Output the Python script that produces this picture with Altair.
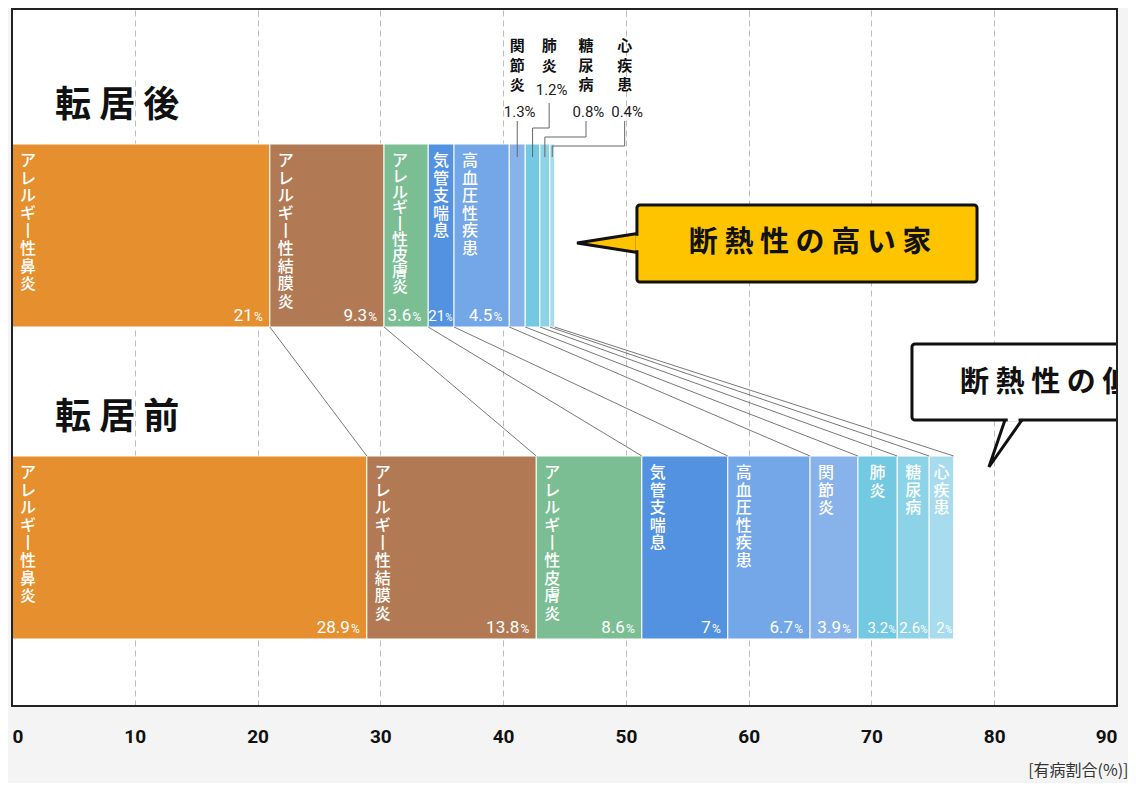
import altair as alt
import pandas as pd

# ---------------- data ----------------
categories = ["アレルギー性鼻炎", "アレルギー性結膜炎", "アレルギー性皮膚炎", "気管支喘息",
              "高血圧性疾患", "関節炎", "肺炎", "糖尿病", "心疾患"]
after_values = [21, 9.3, 3.6, 2.1, 4.5, 1.3, 1.2, 0.8, 0.4]
before_values = [28.9, 13.8, 8.6, 7, 6.7, 3.9, 3.2, 2.6, 2]
after_text = ["21", "9.3", "3.6", "21", "4.5", "1.3", "1.2", "0.8", "0.4"]
before_text = ["28.9", "13.8", "8.6", "7", "6.7", "3.9", "3.2", "2.6", "2"]
colors = ["#E68F2E", "#B27A54", "#7BBE93", "#5392E0", "#73A7E8",
          "#88B3EA", "#73C8E2", "#8CD3E8", "#A6DCED"]
row_titles = ["転 居 後", "転 居 前"]
x_ticks = [0, 10, 20, 30, 40, 50, 60, 70, 80, 90]
axis_title = "[有病割合(%)]"
callout_high = "断 熱 性 の 高 い 家"
callout_low = "断 熱 性 の 低 い 家"

# ---------------- layout (plot-area units) ----------------
W, H = 1105, 697
JP = "Noto Sans CJK JP"
NUM = "Roboto, sans-serif"
rows_layout = {"after": (135, 318), "before": (447, 630)}

recs = []
for row, vals, texts in [("after", after_values, after_text), ("before", before_values, before_text)]:
    y0, y1 = rows_layout[row]
    cum = 0.0
    for cat, v, t in zip(categories, vals, texts):
        recs.append(dict(row=row, category=cat, value=v, start=round(cum, 3),
                         end=round(cum + v, 3), mid=round(cum + v / 2, 3), y0=y0, y1=y1,
                         vname="\n".join(cat.replace("ー", "丨")), num=t,
                         inside=v >= 2, narrow=v < 3.3,
                         compact=(v < 5 and len(cat) >= 9)))
        cum += v
bars = pd.DataFrame(recs)
inside = bars[bars.inside]
wide = inside[~inside.narrow]
narrow = inside[inside.narrow]
names_reg = inside[~inside.compact]
names_cmp = inside[inside.compact]

ends_after = bars[bars.row == "after"].end.tolist()
ends_before = bars[bars.row == "before"].end.tolist()
connectors = pd.DataFrame({"xa": ends_after, "xb": ends_before,
                           "ya": rows_layout["after"][1], "yb": rows_layout["before"][0]})

# small outside labels for the tiny "after" segments
small = bars[(bars.row == "after") & (~bars.inside)].reset_index(drop=True)
small_lx = [None, 43.75, 46.75, 49.9]
small_pct_y = [103, 81, 103, 103]
small_top = [112, 94, 112, 112]
small_elbow = [125, 119, 128, 137]
lab_rows, lead_rows = [], []
for i, r in small.iterrows():
    lx = small_lx[i] if small_lx[i] is not None else r.mid
    lab_rows.append(dict(x=lx, y=30, name="\n".join(r.category), px=lx + 0.2,
                         py=small_pct_y[i], pct=r.num + "%"))
    e = small_elbow[i]
    lead_rows += [dict(x=lx, x2=lx, y=small_top[i], y2=e),
                  dict(x=lx, x2=r.mid, y=e, y2=e),
                  dict(x=r.mid, x2=r.mid, y=e, y2=148)]
small_labels = pd.DataFrame(lab_rows)
leaders = pd.DataFrame(lead_rows)

titles = pd.DataFrame({"x": [3.5, 3.5], "y": [97, 409], "t": row_titles})

xs = alt.Scale(domain=[0, 90], nice=False, zero=False)
ys = alt.Scale(domain=[0, H], reverse=True, nice=False, zero=False)
x_axis = alt.Axis(values=x_ticks, ticks=False, domain=False, grid=True, gridDash=[6, 4],
                  gridColor="#bdbdbd", gridWidth=1, labelFont=NUM, labelFontSize=19,
                  labelFontWeight="bold", labelColor="#111", labelPadding=21,
                  title=axis_title, titleFont=JP, titleFontSize=16, titleFontWeight="normal",
                  titleColor="#333", titleX=1116, titleY=64, titleAlign="right",
                  titleBaseline="middle")


def X(f):
    return alt.X(f, type="quantitative", scale=xs, axis=x_axis)


def Y(f):
    return alt.Y(f, type="quantitative", scale=ys, axis=None)


base_bars = alt.Chart(bars).mark_rect(stroke="white", strokeWidth=1).encode(
    x=X("start"), x2="end", y=Y("y0"), y2="y1",
    color=alt.Color("category:N", scale=alt.Scale(domain=categories, range=colors), legend=None))

conn = alt.Chart(connectors).mark_rule(color="#555", strokeWidth=0.8).encode(
    x=X("xa"), x2="xb", y=Y("ya"), y2="yb")

name_kw = dict(baseline="top", dy=9, lineBreak="\n", font=JP, fontSize=16,
               fontWeight=500, color="white")


def name_layers(df, lh):
    w = df[~df.narrow]
    n = df[df.narrow]
    return [
        alt.Chart(w).mark_text(align="left", dx=8, lineHeight=lh, **name_kw).encode(
            x=X("start"), y=Y("y0"), text="vname:N"),
        alt.Chart(n).mark_text(align="center", lineHeight=lh, **name_kw).encode(
            x=X("mid"), y=Y("y0"), text="vname:N"),
    ]


num_kw = dict(align="right", baseline="alphabetic", dy=-6, font=NUM, color="white")
num_wide = alt.Chart(wide).mark_text(dx=-17, fontSize=17, **num_kw).encode(
    x=X("end"), y=Y("y1"), text="num:N")
sign_wide = alt.Chart(wide).mark_text(dx=-7, fontSize=12, **num_kw).encode(
    x=X("end"), y=Y("y1"), text=alt.value("%"))
num_narrow = alt.Chart(narrow).mark_text(dx=-9, fontSize=15, **num_kw).encode(
    x=X("end"), y=Y("y1"), text="num:N")
sign_narrow = alt.Chart(narrow).mark_text(dx=-1.5, fontSize=10, **num_kw).encode(
    x=X("end"), y=Y("y1"), text=alt.value("%"))

row_title = alt.Chart(titles).mark_text(align="left", baseline="middle", font=JP,
                                        fontSize=36, fontWeight="bold", color="#111").encode(
    x=X("x"), y=Y("y"), text="t:N")

small_names = alt.Chart(small_labels).mark_text(
    align="center", baseline="top", lineBreak="\n", font=JP, fontSize=15,
    fontWeight="bold", lineHeight=19.5, color="#111").encode(
    x=X("x"), y=Y("y"), text="name:N")
small_pcts = alt.Chart(small_labels).mark_text(
    align="center", baseline="middle", font=NUM, fontSize=15, color="#222").encode(
    x=X("px"), y=Y("py"), text="pct:N")
lead = alt.Chart(leaders).mark_rule(color="#666", strokeWidth=1).encode(
    x=X("x"), x2="x2", y=Y("y"), y2="y2")

# callout: high insulation (yellow)
YEL = "#FFC400"
c1_ptr = pd.DataFrame({"y": [224, 234, 244], "x": [51.2, 46.02, 51.2], "x2": [51.2, 51.2, 51.2]})
c1_box = pd.DataFrame({"x": [50.9], "x2": [78.6], "y": [196], "y2": [273]})
c1_cov = pd.DataFrame({"x": [50.77], "x2": [51.14], "y": [226.8], "y2": [241.2]})
c1_txt = pd.DataFrame({"x": [65.0], "y": [234], "t": [callout_high]})
p1 = alt.Chart(c1_ptr).mark_area(orient="horizontal", fill=YEL, stroke="#111",
                                 strokeWidth=3, strokeJoin="miter").encode(
    x=X("x"), x2="x2", y=Y("y"))
b1 = alt.Chart(c1_box).mark_rect(fill=YEL, stroke="#111", strokeWidth=3, cornerRadius=3).encode(
    x=X("x"), x2="x2", y=Y("y"), y2="y2")
v1 = alt.Chart(c1_cov).mark_rect(fill=YEL).encode(x=X("x"), x2="x2", y=Y("y"), y2="y2")
t1 = alt.Chart(c1_txt).mark_text(align="center", baseline="middle", font=JP, fontSize=29,
                                 fontWeight="bold", color="#111").encode(
    x=X("x"), y=Y("y"), text="t:N")

# callout: low insulation (white, clipped at frame)
c2_ptr = pd.DataFrame({"x": [79.57, 80.96, 82.43], "y": [458, 408, 408], "y2": [458, 433.7, 408]})
c2_box = pd.DataFrame({"x": [73.3], "x2": [96.0], "y": [335], "y2": [411]})
c2_cov = pd.DataFrame({"x": [81.1], "x2": [81.98], "y": [407], "y2": [412.8]})
c2_txt = pd.DataFrame({"x": [77.21], "y": [374], "t": [callout_low]})
p2 = alt.Chart(c2_ptr).mark_area(orient="vertical", fill="white", stroke="#111",
                                 strokeWidth=3, strokeJoin="miter").encode(
    x=X("x"), y=Y("y"), y2="y2")
b2 = alt.Chart(c2_box).mark_rect(fill="white", stroke="#111", strokeWidth=3, cornerRadius=3,
                                 clip=True).encode(
    x=X("x"), x2="x2", y=Y("y"), y2="y2")
v2 = alt.Chart(c2_cov).mark_rect(fill="white").encode(x=X("x"), x2="x2", y=Y("y"), y2="y2")
t2 = alt.Chart(c2_txt).mark_text(align="left", baseline="middle", font=JP, fontSize=29,
                                 fontWeight="bold", color="#111", clip=True).encode(
    x=X("x"), y=Y("y"), text="t:N")

frame_df = pd.DataFrame({"x": [0], "x2": [90], "y": [0], "y2": [H]})
frame = alt.Chart(frame_df).mark_rect(filled=False, stroke="#222", strokeWidth=2).encode(
    x=X("x"), x2="x2", y=Y("y"), y2="y2")

chart = alt.layer(
    base_bars, conn, *name_layers(names_reg, 17.6), *name_layers(names_cmp, 15.8),
    num_wide, sign_wide, num_narrow, sign_narrow,
    row_title, small_names, small_pcts, lead, p1, b1, v1, t1, p2, b2, v2, t2, frame
).properties(
    width=W, height=H,
    padding={"left": 4, "top": 1, "right": 11, "bottom": 77},
    autosize=alt.AutoSizeParams(type="none"),
    background="#f4f4f4",
).configure_view(fill="white", stroke="transparent")

chart.save("out.html", embed_options={"renderer": "svg", "actions": False})
